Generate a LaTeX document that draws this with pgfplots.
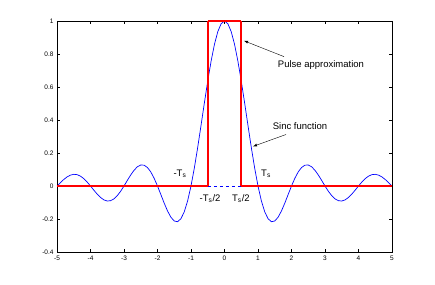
\documentclass[border=0pt]{standalone}
\usepackage{fontspec}
\setmainfont{Liberation Sans}
\usepackage{pgfplots}
\pgfplotsset{compat=1.18}
\usetikzlibrary{calc}
\definecolor{pred}{RGB}{255,0,0}
\definecolor{pblue}{RGB}{0,0,255}
\begin{document}
\begin{tikzpicture}
\begin{axis}[
  scale only axis, width=335pt, height=231pt,
  xmin=-5, xmax=5, ymin=-0.4, ymax=1,
  xtick={-5,-4,...,5}, ytick={-0.4,-0.2,0,0.2,0.4,0.6,0.8,1},
  tick align=inside, major tick length=3pt,
  tick style={black, line width=0.4pt},
  axis line style={black, line width=0.5pt},
  tick label style={font=\fontsize{6.5}{7}\selectfont},
  /pgf/number format/assume math mode=true,
  yticklabel style={/pgf/number format/fixed},
  clip=false,
]
\addplot[pblue, line width=0.7pt] coordinates {
(-5.0,0) (-4.9,0.02007) (-4.8,0.03898) (-4.7,0.05479) (-4.6,0.06581) (-4.5,0.07074)
(-4.4,0.06880) (-4.3,0.05989) (-4.2,0.04455) (-4.1,0.02399) (-4.0,0)
(-3.9,-0.02522) (-3.8,-0.04924) (-3.7,-0.06960) (-3.6,-0.08409) (-3.5,-0.09095)
(-3.4,-0.08904) (-3.3,-0.07804) (-3.2,-0.05847) (-3.1,-0.03173) (-3.0,0)
(-2.9,0.03392) (-2.8,0.06682) (-2.7,0.09538) (-2.6,0.11643) (-2.5,0.12732)
(-2.4,0.12614) (-2.3,0.11196) (-2.2,0.08504) (-2.1,0.04684) (-2.0,0)
(-1.9,-0.05177) (-1.8,-0.10394) (-1.7,-0.15148) (-1.6,-0.18921) (-1.5,-0.21221)
(-1.4,-0.21624) (-1.3,-0.19809) (-1.2,-0.15592) (-1.1,-0.08942) (-1.0,0)
(-0.9,0.10929) (-0.8,0.23387) (-0.7,0.36788) (-0.6,0.50455) (-0.5,0.63662)
(-0.4,0.75683) (-0.3,0.85839) (-0.2,0.93549) (-0.1,0.98363) (0,1)
(0.1,0.98363) (0.2,0.93549) (0.3,0.85839) (0.4,0.75683) (0.5,0.63662)
(0.6,0.50455) (0.7,0.36788) (0.8,0.23387) (0.9,0.10929) (1.0,0)
(1.1,-0.08942) (1.2,-0.15592) (1.3,-0.19809) (1.4,-0.21624) (1.5,-0.21221)
(1.6,-0.18921) (1.7,-0.15148) (1.8,-0.10394) (1.9,-0.05177) (2.0,0)
(2.1,0.04684) (2.2,0.08504) (2.3,0.11196) (2.4,0.12614) (2.5,0.12732)
(2.6,0.11643) (2.7,0.09538) (2.8,0.06682) (2.9,0.03392) (3.0,0)
(3.1,-0.03173) (3.2,-0.05847) (3.3,-0.07804) (3.4,-0.08904) (3.5,-0.09095)
(3.6,-0.08409) (3.7,-0.06960) (3.8,-0.04924) (3.9,-0.02522) (4.0,0)
(4.1,0.02399) (4.2,0.04455) (4.3,0.05989) (4.4,0.06880) (4.5,0.07074)
(4.6,0.06581) (4.7,0.05479) (4.8,0.03898) (4.9,0.02007) (5.0,0)
};
\addplot[pblue, dashed, line width=0.7pt] coordinates {(-0.5,0) (0.5,0)};
\addplot[draw=pred, line width=1.2pt] coordinates {(-5,0) (-0.5,0)};
\addplot[draw=pred, line width=1.2pt] coordinates {(0.5,0) (5,0)};
\addplot[draw=pred, line width=1.2pt] coordinates {(-0.5,1) (0.5,1)};
\addplot[draw=pred, line width=1.8pt] coordinates {(-0.5,0) (-0.5,1)};
\addplot[draw=pred, line width=1.8pt] coordinates {(0.5,0) (0.5,1)};
\node[font=\fontsize{9.5}{10}\selectfont] at (axis cs:2.88,0.735) {Pulse approximation};
\draw[-latex, line width=0.4pt] (axis cs:1.776,0.784) -- (axis cs:0.582,0.88);
\node[font=\fontsize{9.5}{10}\selectfont] at (axis cs:2.254,0.36) {Sinc function};
\draw[-latex, line width=0.4pt] (axis cs:1.836,0.312) -- (axis cs:0.851,0.24);
\node[font=\fontsize{9.5}{10}\selectfont] at (axis cs:-1.33,0.075) {-T\textsubscript{s}};
\node[font=\fontsize{9.5}{10}\selectfont] at (axis cs:1.24,0.075) {T\textsubscript{s}};
\node[font=\fontsize{9.5}{10}\selectfont] at (axis cs:-0.43,-0.075) {-T\textsubscript{s}/2};
\node[font=\fontsize{9.5}{10}\selectfont] at (axis cs:0.49,-0.075) {T\textsubscript{s}/2};
\end{axis}
\useasboundingbox ($(current axis.south west)+(-57pt,-33pt)$) rectangle ($(current axis.north east)+(43pt,21pt)$);
\end{tikzpicture}
\end{document}
